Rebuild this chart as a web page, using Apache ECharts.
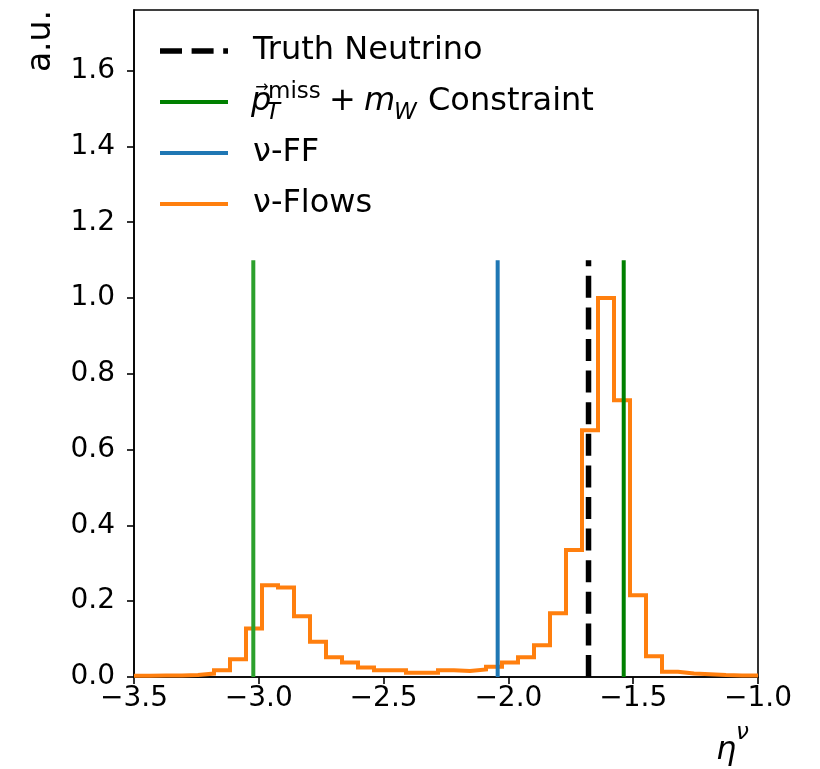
<!DOCTYPE html>
<html>
<head>
<meta charset="utf-8">
<script src="https://cdn.jsdelivr.net/npm/echarts@6/dist/echarts.min.js"></script>
<style>
  html, body { margin: 0; padding: 0; background: #fff; }
  #chart { width: 820px; height: 769px; }
</style>
</head>
<body>
<div id="chart"></div>
<script>
// histogram binning (step outline of the nu-Flows samples)
const histMin = -3.5;
const histMax = -1.0;
const histValues = [
  0.003, 0.004, 0.004, 0.005, 0.009, 0.018, 0.047, 0.128, 0.242, 0.236,
  0.160, 0.093, 0.052, 0.038, 0.025, 0.018, 0.018, 0.011, 0.011, 0.018,
  0.016, 0.020, 0.027, 0.038, 0.052, 0.084, 0.168, 0.335, 0.651, 1.000,
  0.730, 0.216, 0.055, 0.014, 0.009, 0.007, 0.005, 0.004, 0.004
];

// vertical reference lines
const lineTop = 1.1;
const truthEta = -1.679;
const constraintEta = [-3.022, -1.538];
const ffEta = -2.043;

// axis ticks
const xTicks = [-3.5, -3.0, -2.5, -2.0, -1.5, -1.0];
const yTicks = [0, 0.2, 0.4, 0.6, 0.8, 1.0, 1.2, 1.4, 1.6];

const FONT = "DejaVu Sans";
const chart = echarts.init(document.getElementById("chart"));

// step points: left edge of every bin + closing right edge
const nBins = histValues.length;
const binW = (histMax - histMin) / nBins;
const stepData = histValues.map((v, i) => [histMin + i * binW, v]);
stepData.push([histMax, histValues[nBins - 1]]);

const vline = (x, color, width, type) => ({
  type: "line",
  data: [[x, 0], [x, lineTop]],
  showSymbol: false,
  silent: true,
  z: 5,
  lineStyle: { color: color, width: width, type: type || "solid", cap: "butt" },
});

const fmt = (v) => v.toFixed(1).replace("-", "\u2212");

const txt = (x, y, text, font, extra) => ({
  type: "text", x: x, y: y,
  style: Object.assign({ text: text, font: font, fill: "#000", verticalAlign: "middle" }, extra || {}),
});

// legend, drawn by hand (matplotlib style, no frame)
const legX = 160, legLen = 68, legTx = 253;
const legY = [51, 102, 153, 204];
const F = "32px " + FONT, FI = "italic 32px " + FONT;
const FS = "23px " + FONT, FSI = "italic 23px " + FONT;
const legendGraphics = [
  { type: "line", shape: { x1: legX, y1: legY[0], x2: legX + legLen, y2: legY[0] },
    style: { stroke: "#000", lineWidth: 5.5, lineDash: [22, 9.6] } },
  { type: "line", shape: { x1: legX, y1: legY[1], x2: legX + legLen, y2: legY[1] },
    style: { stroke: "#008000", lineWidth: 4 } },
  { type: "line", shape: { x1: legX, y1: legY[2], x2: legX + legLen, y2: legY[2] },
    style: { stroke: "#1f77b4", lineWidth: 4 } },
  { type: "line", shape: { x1: legX, y1: legY[3], x2: legX + legLen, y2: legY[3] },
    style: { stroke: "#ff7f0e", lineWidth: 4 } },
  txt(legTx, legY[0], "Truth Neutrino", F),
  // p_T^miss + m_W Constraint
  txt(251, legY[1], "p", FI),
  txt(262, legY[1] - 14, "\u2192", "16px " + FONT, { align: "center" }),
  txt(266, legY[1] + 11, "T", FSI),
  txt(268, legY[1] - 10, "miss", FS),
  txt(329, legY[1], "+", F),
  txt(364, legY[1], "m", FI),
  txt(394, legY[1] + 11, "W", FSI),
  txt(428, legY[1], "Constraint", F),
  txt(legTx, legY[2], "\u03BD-FF", F),
  txt(legTx, legY[3], "\u03BD-Flows", F),
  // axis labels
  { type: "text", x: 41, y: 10, rotation: Math.PI / 2,
    style: { text: "a.u.", font: "33px " + FONT, fill: "#000", align: "right", verticalAlign: "middle" } },
  txt(716, 751, "\u03B7", "italic 32px " + FONT),
  txt(736, 733, "\u03BD", "italic 23px " + FONT),
];

chart.setOption({
  animation: false,
  backgroundColor: "#fff",
  grid: { left: 134, right: 62, top: 10, bottom: 92, show: true,
    borderColor: "#000", borderWidth: 1.6, backgroundColor: "transparent" },
  xAxis: {
    type: "value", min: xTicks[0], max: xTicks[xTicks.length - 1], interval: 0.5,
    axisLine: { show: true, lineStyle: { color: "#000", width: 1.6 } },
    axisTick: { show: true, inside: false, length: 7, lineStyle: { color: "#000", width: 1.6 } },
    axisLabel: { fontFamily: FONT, fontSize: 28, color: "#000", margin: 8, formatter: fmt },
    splitLine: { show: false },
  },
  yAxis: {
    type: "value", min: 0, max: 1.76,
    axisLine: { show: true, lineStyle: { color: "#000", width: 1.6 } },
    axisTick: { show: true, inside: false, length: 7, customValues: yTicks,
      lineStyle: { color: "#000", width: 1.6 } },
    axisLabel: { fontFamily: FONT, fontSize: 28, color: "#000", margin: 19,
      customValues: yTicks, formatter: fmt },
    splitLine: { show: false },
  },
  series: [
    {
      type: "line",
      data: stepData,
      step: "end",
      showSymbol: false,
      silent: true,
      z: 2,
      lineStyle: { color: "#ff7f0e", width: 4, join: "miter" },
    },
    vline(constraintEta[0], "#2ca02c", 4),
    vline(ffEta, "#1f77b4", 4),
    vline(truthEta, "#000000", 5.5, [22, 9.6]),
    vline(constraintEta[1], "#008000", 4),
  ],
  graphic: legendGraphics,
});
</script>
</body>
</html>
